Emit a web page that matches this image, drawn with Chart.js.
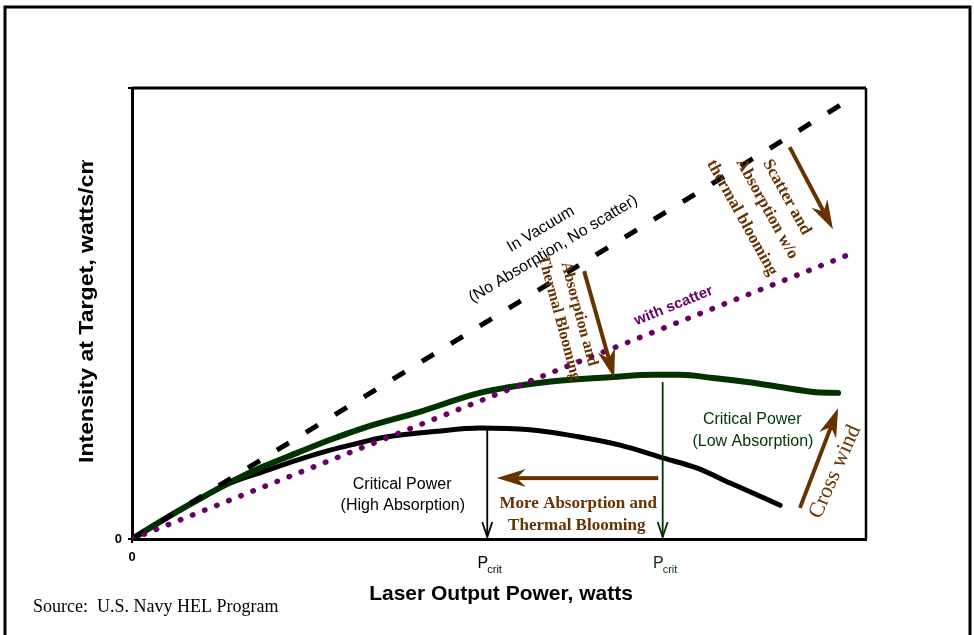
<!DOCTYPE html>
<html>
<head>
<meta charset="utf-8">
<script src="https://cdn.jsdelivr.net/npm/chart.js@4.4.1/dist/chart.umd.min.js"></script>
<style>
html,body{margin:0;padding:0;background:#fff}
#wrap{position:relative;width:974px;height:635px}
</style>
</head>
<body>
<div id="wrap"><canvas id="c" width="974" height="635"></canvas></div>
<script>
// relative units: x = laser output power, y = intensity (0..100)
var vacuumX=[0,97]
var vacuumY=[0,96.7]
var scatterX=[0,98.5]
var scatterY=[0,63.6]
var lowAbsX=[0,4.2,8.9,13.4,17.8,22.5,27.0,31.5,39.2,47.4,56.5,65.5,71.0,74.7,79.2,83.8,88.3,92.8,96.2]
var lowAbsY=[0,4.2,8.6,12.6,16.0,19.1,22.0,24.6,28.2,32.4,34.8,35.9,36.4,36.4,35.7,34.8,33.7,32.6,32.4]
var highAbsX=[0,4.2,8.9,13.4,17.8,22.5,27.0,31.5,33.8,41.6,47.4,54.2,61.0,66.5,72.3,77.0,81.5,88.3]
var highAbsY=[0,4.2,8.6,12.4,14.9,17.5,19.7,21.5,22.4,23.9,24.6,24.2,22.6,20.8,18.0,15.7,12.4,7.5]
var xTicks=[0]
var yTicks=[0,100]
var xTickLabels={0:'0'}
var yTickLabels={0:'0'}

var BROWN='#663300',GREEN='#003300',PURPLE='#660066'
var SANS='"Liberation Sans", Arial, sans-serif'
var SERIF='"Liberation Serif", "Times New Roman", serif'

// text notes, positioned in data units
var notes=[
	{t:'In Vacuum',x:55.7,y:68.7,rot:-31,font:'16px '+SANS,c:'#000'},
	{t:'(No Absorption, No scatter)',x:57.4,y:64.3,rot:-31,font:'16px '+SANS,c:'#000'},
	{t:'with scatter',x:73.8,y:51.7,rot:-22,font:'bold 15px '+SANS,c:PURPLE},
	{t:'Absorption and',x:60.9,y:49.9,rot:75,font:'bold 16px '+SERIF,c:BROWN},
	{t:'Thermal Blooming',x:58.2,y:49.0,rot:75,font:'bold 16px '+SERIF,c:BROWN},
	{t:'Scatter and',x:89.2,y:75.8,rot:61,font:'bold 17px '+SERIF,c:BROWN},
	{t:'Absorption w/o',x:86.5,y:73.2,rot:61,font:'bold 17px '+SERIF,c:BROWN},
	{t:'thermal blooming',x:83.1,y:71.2,rot:61,font:'bold 17px '+SERIF,c:BROWN},
	{t:'Critical Power',x:36.8,y:12.0,rot:0,font:'16px '+SANS,c:'#000'},
	{t:'(High Absorption)',x:36.9,y:7.3,rot:0,font:'16px '+SANS,c:'#000'},
	{t:'More Absorption and',x:60.8,y:7.8,rot:0,font:'bold 17px '+SERIF,c:BROWN},
	{t:'Thermal Blooming',x:60.6,y:2.9,rot:0,font:'bold 17px '+SERIF,c:BROWN},
	{t:'Critical Power',x:84.5,y:26.4,rot:0,font:'16px '+SANS,c:GREEN},
	{t:'(Low Absorption)',x:84.6,y:21.5,rot:0,font:'16px '+SANS,c:GREEN},
	{t:'Cross wind',x:95.8,y:14.9,rot:-66,font:'22px '+SERIF,c:BROWN}
]
var brownArrows=[
	{x1:71.7,y1:13.5,x2:49.7,y2:13.5},
	{x1:61.6,y1:59.4,x2:65.7,y2:35.7},
	{x1:89.6,y1:86.9,x2:95.5,y2:68.7},
	{x1:91.0,y1:6.9,x2:96.2,y2:29.0}
]
var pcrit=[
	{x:48.4,top:24.4,c:'#000'},
	{x:72.3,top:34.8,c:GREEN}
]

function pts(xs,ys){return xs.map(function(x,i){return {x:x,y:ys[i]}})}

function drawBrownArrow(ctx,x1,y1,x2,y2){
	var a=Math.atan2(y2-y1,x2-x1),L=Math.hypot(x2-x1,y2-y1)
	ctx.save()
	ctx.translate(x1,y1);ctx.rotate(a)
	ctx.fillStyle=BROWN
	ctx.fillRect(0,-2,L-20,4)
	ctx.beginPath()
	ctx.moveTo(L,0);ctx.lineTo(L-29,-9);ctx.lineTo(L-20,0);ctx.lineTo(L-29,9)
	ctx.closePath();ctx.fill()
	ctx.restore()
}

var decor={
	id:'decor',
	afterDraw:function(chart){
		var ctx=chart.ctx,xs=chart.scales.x,ys=chart.scales.y,ca=chart.chartArea
		ctx.save()
		// outer frame
		ctx.strokeStyle='#000';ctx.lineWidth=3
		ctx.beginPath();ctx.moveTo(5,640);ctx.lineTo(5,7);ctx.lineTo(970,7);ctx.lineTo(970,640);ctx.stroke()
		// plot box top + right
		var top=ys.getPixelForValue(100),right=xs.getPixelForValue(100)
		ctx.beginPath();ctx.moveTo(ca.left,top);ctx.lineTo(right,top);ctx.stroke()
		ctx.lineWidth=2.5
		ctx.beginPath();ctx.moveTo(right,top);ctx.lineTo(right,ca.bottom);ctx.stroke()

		// Pcrit arrows
		pcrit.forEach(function(p){
			var px=xs.getPixelForValue(p.x),y1=ys.getPixelForValue(p.top),y2=ys.getPixelForValue(0)-2
			ctx.strokeStyle=p.c;ctx.lineWidth=1.8
			ctx.beginPath();ctx.moveTo(px,y1);ctx.lineTo(px,y2);ctx.stroke()
			ctx.beginPath();ctx.moveTo(px-5,y2-15);ctx.lineTo(px,y2);ctx.lineTo(px+5,y2-15);ctx.stroke()
			ctx.fillStyle=p.c;ctx.textBaseline='alphabetic'
			ctx.font='16px '+SANS;ctx.textAlign='right'
			ctx.fillText('P',px+1,568)
			ctx.font='11px '+SANS;ctx.textAlign='left'
			ctx.fillText('crit',px,573)
		})

		brownArrows.forEach(function(a){
			drawBrownArrow(ctx,xs.getPixelForValue(a.x1),ys.getPixelForValue(a.y1),xs.getPixelForValue(a.x2),ys.getPixelForValue(a.y2))
		})

		notes.forEach(function(n){
			ctx.save()
			ctx.translate(xs.getPixelForValue(n.x),ys.getPixelForValue(n.y))
			ctx.rotate(n.rot*Math.PI/180)
			ctx.font=n.font;ctx.fillStyle=n.c
			ctx.textAlign='center';ctx.textBaseline='middle'
			ctx.fillText(n.t,0,0)
			ctx.restore()
		})

		// axis titles
		ctx.fillStyle='#000'
		ctx.font='bold 21px '+SANS;ctx.textAlign='center';ctx.textBaseline='alphabetic'
		ctx.fillText('Laser Output Power, watts',501,600)
		ctx.save()
		ctx.beginPath();ctx.rect(0,160,130,400);ctx.clip()
		ctx.translate(93,463);ctx.rotate(-Math.PI/2);ctx.scale(1.1,1)
		ctx.textAlign='left'
		ctx.fillText('Intensity at Target, watts/cm\u00b2',0,0)
		ctx.restore()

		ctx.font='18px '+SERIF;ctx.textAlign='left'
		ctx.fillText('Source:  U.S. Navy HEL Program',33,612)
		ctx.restore()
	}
}

var chart=new Chart(document.getElementById('c'),{
	type:'line',
	data:{datasets:[
		{label:'with scatter',data:pts(scatterX,scatterY),borderColor:PURPLE,borderWidth:5.5,borderDash:[0.5,12.5],borderCapStyle:'round',order:1},
		{label:'In Vacuum',data:pts(vacuumX,vacuumY),borderColor:'#000',borderWidth:5,borderDash:[14,20],order:2},
		{label:'Low Absorption',data:pts(lowAbsX,lowAbsY),borderColor:GREEN,borderWidth:6,borderCapStyle:'round',cubicInterpolationMode:'monotone',order:3},
		{label:'High Absorption',data:pts(highAbsX,highAbsY),borderColor:'#000',borderWidth:5,borderCapStyle:'round',cubicInterpolationMode:'monotone',order:4}
	]},
	options:{
		responsive:false,
		animation:false,
		layout:{padding:{left:92,top:88,right:108,bottom:56}},
		elements:{point:{radius:0},line:{fill:false}},
		plugins:{legend:{display:false},tooltip:{enabled:false}},
		scales:{
			x:{
				type:'linear',min:0,max:100,
				afterBuildTicks:function(s){s.ticks=xTicks.map(function(v){return {value:v}})},
				afterFit:function(s){s.height=40},
				ticks:{color:'#000',padding:7,maxRotation:0,font:{family:SANS,size:13,weight:'bold'},callback:function(v){return xTickLabels[v]||''}},
				grid:{drawOnChartArea:false,tickLength:4,color:'#000',lineWidth:2},
				border:{color:'#000',width:3}
			},
			y:{
				type:'linear',min:0,max:100,
				afterBuildTicks:function(s){s.ticks=yTicks.map(function(v){return {value:v}})},
				afterFit:function(s){s.width=40},
				ticks:{color:'#000',padding:6,font:{family:SANS,size:13,weight:'bold'},callback:function(v){return yTickLabels[v]||''}},
				grid:{drawOnChartArea:false,tickLength:4,color:'#000',lineWidth:2},
				border:{color:'#000',width:3}
			}
		}
	},
	plugins:[decor]
})
</script>
</body>
</html>
